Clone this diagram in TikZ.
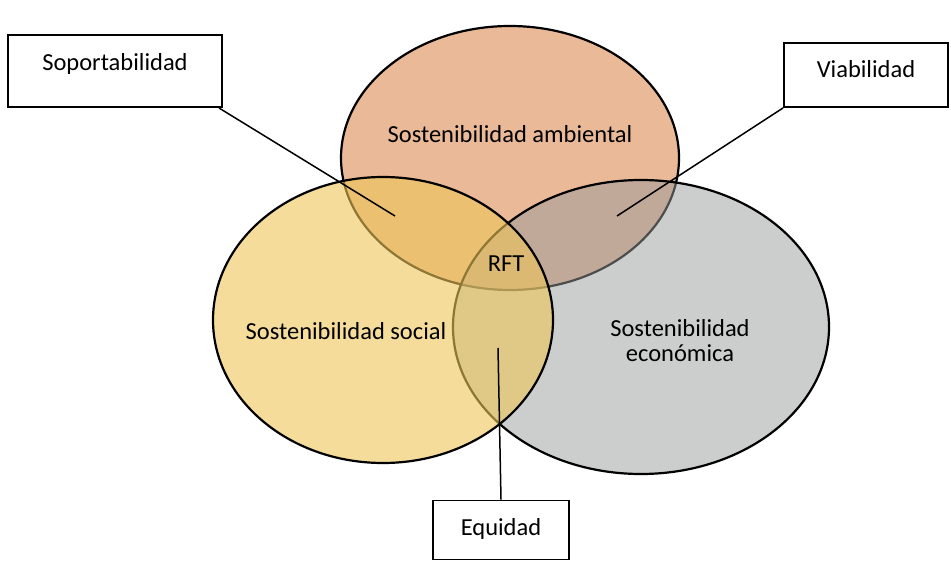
\documentclass[tikz,border=0pt]{standalone}
\usepackage{fontspec}
\setmainfont{Carlito}
\usepackage{tikz}
\usetikzlibrary{shapes.geometric,positioning,calc}
\definecolor{ambcol}{RGB}{234,185,152}
\definecolor{soccol}{RGB}{238,197,88}
\definecolor{ecocol}{RGB}{153,155,155}

\begin{document}
\begin{tikzpicture}[
  x=1bp, y=-1bp,
  font=\fontsize{24.5bp}{29bp}\selectfont,
  circ/.style={
    ellipse,
    draw=black,
    line width=2.2bp,
    inner sep=0pt
  },
  amb/.style={
    circ,
    fill=ambcol
  },
  soc/.style={
    circ,
    fill=soccol,
    fill opacity=0.6
  },
  eco/.style={
    circ,
    fill=ecocol,
    fill opacity=0.5
  },
  box/.style={
    draw,
    line width=1.9bp,
    inner sep=0pt,
    text height=9bp,
    text depth=9bp,
    align=center
  },
  lab/.style={
    align=center,
    inner sep=1pt
  },
  edge/.style={
    draw=black,
    line width=1.5bp
  }
]
\useasboundingbox (0,0) rectangle (951,568);

% Three circles
\node[amb, minimum width=338bp, minimum height=264bp] (ambiental) at (510,158) {};
\node[eco, minimum width=376bp, minimum height=294bp] (economica) at (641,327) {};
\node[soc, minimum width=340bp, minimum height=286bp] (social) at (383,320) {};

% Texts in the circles
\node[lab] (tamb) at (510,134) {Sostenibilidad ambiental};
\node[lab] (tsoc) at (346,331) {Sostenibilidad social};
\node[lab, font=\fontsize{24.5bp}{25bp}\selectfont] (teco) at (680,341) {Sostenibilidad\\econ\'omica};
\node[lab] (rft) at (506,264) {RFT};

% Boxes
\node[box, minimum width=214bp, minimum height=72bp] (sop) at (115,71) {Soportabilidad};
\node[box, minimum width=164bp, minimum height=64bp, text height=15bp] (viab) at (866,75) {Viabilidad};
\node[box, minimum width=136bp, minimum height=59bp, text height=19bp] (equ) at (501,530) {Equidad};

% Ends of the lines
\coordinate (psop) at (395,216);
\coordinate (pviab) at (617,216);
\coordinate (pequ) at (498,348);

\draw[edge] ($(sop.south east)+(-4,0)$) -- (psop);
\draw[edge] (viab.south west) -- (pviab);
\draw[edge] (equ.north) -- (pequ);

\end{tikzpicture}
\end{document}
